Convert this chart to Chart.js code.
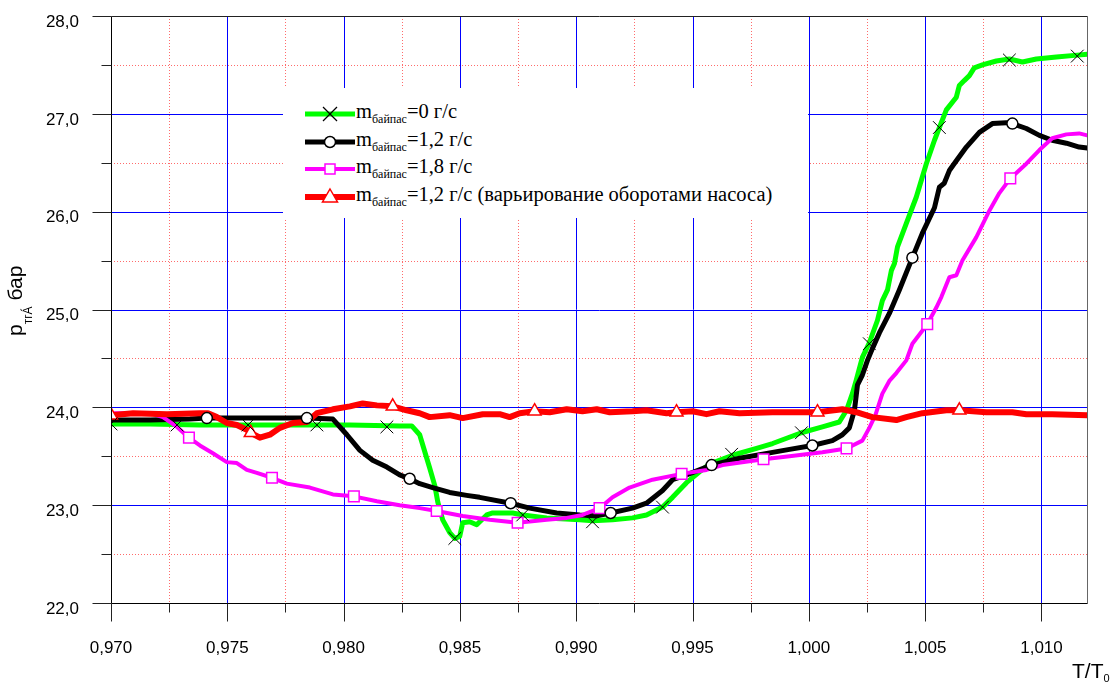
<!DOCTYPE html>
<html>
<head>
<meta charset="utf-8">
<script src="https://cdn.jsdelivr.net/npm/chart.js@4.4.0/dist/chart.umd.min.js"></script>
<style>
  body { margin: 0; background: #fff; }
  #wrap { position: relative; width: 1114px; height: 684px; }
  #chart { position: absolute; left: 0; top: 0; }
  #legend { position: absolute; left: 283px; top: 88px; width: 525px; height: 130px; background: #fff;
    font-family: "Liberation Serif", "Times New Roman", serif; font-size: 20.5px; color: #000; }
  .row { position: absolute; left: 0; width: 525px; height: 28px; }
  .row svg { position: absolute; left: 22px; top: 0; }
  .row .t { position: absolute; left: 73px; top: 1px; line-height: 20px; white-space: nowrap; }
  .row sub { font-size: 12px; vertical-align: -5px; line-height: 0; }
  .axt { position: absolute; font-family: "Liberation Sans", Arial, sans-serif; font-size: 21px; line-height: 21px; white-space: nowrap; color: #000; }
  #ytitle { left: 4px; top: 336px; transform: rotate(-90deg); transform-origin: 0 0; }
  #ytitle sub { font-size: 12px; vertical-align: -10px; line-height: 0; }
  #xtitle { left: 1072px; top: 660px; }
  #xtitle sub { font-size: 11px; vertical-align: -4px; line-height: 0; }
</style>
</head>
<body>
<div id="wrap">
  <canvas id="chart" width="1114" height="684"></canvas>
  <div id="legend">
    <div class="row" style="top:12px">
      <svg width="50" height="28"><line x1="0" y1="14" x2="50" y2="14" stroke="#00ff00" stroke-width="5"/>
        <line x1="18" y1="7" x2="32" y2="21" stroke="#000" stroke-width="1.2"/><line x1="18" y1="21" x2="32" y2="7" stroke="#000" stroke-width="1.2"/></svg>
      <span class="t">m<sub>байпас</sub>=0 г/с</span>
    </div>
    <div class="row" style="top:39.7px">
      <svg width="50" height="28"><line x1="0" y1="14" x2="50" y2="14" stroke="#000" stroke-width="5"/>
        <circle cx="25" cy="14" r="5.5" fill="#fff" stroke="#000" stroke-width="1.5"/></svg>
      <span class="t">m<sub>байпас</sub>=1,2 г/с</span>
    </div>
    <div class="row" style="top:67.3px">
      <svg width="50" height="28"><line x1="0" y1="14" x2="50" y2="14" stroke="#ff00ff" stroke-width="4"/>
        <rect x="20" y="9" width="10" height="10" fill="#fff" stroke="#ff00ff" stroke-width="1.5"/></svg>
      <span class="t">m<sub>байпас</sub>=1,8 г/с</span>
    </div>
    <div class="row" style="top:95.3px">
      <svg width="50" height="28"><line x1="0" y1="14" x2="50" y2="14" stroke="#ff0000" stroke-width="6"/>
        <polygon points="25,6 32.5,19 17.5,19" fill="#fff" stroke="#ff0000" stroke-width="1.5"/></svg>
      <span class="t">m<sub>байпас</sub>=1,2 г/с (варьирование оборотами насоса)</span>
    </div>
  </div>
  <div id="ytitle" class="axt">p<sub>тгÁ</sub> бар</div>
  <div id="xtitle" class="axt">T/T<sub>0</sub></div>
</div>
<script>
// m = 0 г/с (зелёная)
const gX = [0.97000,0.97168,0.97382,0.97597,0.97812,0.98027,0.98241,0.98293,0.98327,0.98370,0.98392,0.98405,0.98426,0.98456,0.98478,0.98499,0.98512,0.98542,0.98572,0.98615,0.98641,0.98727,0.98770,0.98873,0.99015,0.99070,0.99156,0.99242,0.99302,0.99345,0.99371,0.99414,0.99474,0.99530,0.99573,0.99672,0.99775,0.99844,0.99968,1.00058,1.00131,1.00162,1.00187,1.00204,1.00230,1.00260,1.00295,1.00316,1.00338,1.00355,1.00368,1.00381,1.00419,1.00462,1.00505,1.00540,1.00561,1.00591,1.00634,1.00647,1.00668,1.00690,1.00711,1.00746,1.00806,1.00862,1.00918,1.00978,1.01064,1.01154,1.01197];
const gY = [23.83,23.83,23.82,23.82,23.82,23.82,23.81,23.81,23.72,23.38,23.20,23.03,22.85,22.72,22.66,22.68,22.82,22.83,22.80,22.90,22.92,22.92,22.90,22.87,22.85,22.84,22.85,22.87,22.90,22.95,22.98,23.08,23.23,23.34,23.42,23.51,23.58,23.63,23.74,23.80,23.85,23.97,24.14,24.28,24.51,24.66,24.89,25.09,25.20,25.40,25.47,25.64,25.88,26.15,26.49,26.73,26.86,27.04,27.17,27.29,27.34,27.39,27.47,27.50,27.54,27.56,27.53,27.56,27.58,27.60,27.61];
const gMX = [0.97000,0.97284,0.97589,0.97885,0.98186,0.98478,0.98770,0.99070,0.99371,0.99668,0.99968,1.00260,1.00561,1.00862,1.01154];
const gMY = [23.83,23.82,23.82,23.82,23.80,22.66,22.90,22.83,22.98,23.52,23.74,24.65,26.86,27.55,27.59];

// m = 1,2 г/с (чёрная)
const bX = [0.97000,0.97168,0.97339,0.97412,0.97640,0.97842,0.97954,0.98014,0.98070,0.98125,0.98186,0.98241,0.98284,0.98327,0.98383,0.98456,0.98529,0.98585,0.98718,0.98800,0.98916,0.99015,0.99088,0.99148,0.99242,0.99302,0.99371,0.99414,0.99474,0.99582,0.99702,0.99844,0.99917,1.00015,1.00101,1.00144,1.00174,1.00196,1.00209,1.00230,1.00252,1.00273,1.00303,1.00346,1.00389,1.00445,1.00488,1.00540,1.00561,1.00582,1.00604,1.00634,1.00677,1.00733,1.00789,1.00849,1.00875,1.00935,1.00991,1.01046,1.01107,1.01162,1.01197];
const bY = [23.87,23.87,23.88,23.89,23.89,23.89,23.88,23.72,23.56,23.46,23.39,23.31,23.27,23.22,23.18,23.13,23.10,23.08,23.02,22.97,22.92,22.90,22.89,22.92,22.97,23.02,23.15,23.26,23.31,23.41,23.48,23.54,23.57,23.61,23.66,23.72,23.79,23.97,24.23,24.33,24.48,24.60,24.76,24.96,25.20,25.53,25.78,26.04,26.25,26.29,26.42,26.52,26.66,26.81,26.90,26.91,26.90,26.85,26.78,26.73,26.70,26.66,26.65];
const bMX = [0.97412,0.97842,0.98284,0.98718,0.99148,0.99582,1.00015,1.00445,1.00875];
const bMY = [23.89,23.89,23.27,23.02,22.92,23.41,23.61,25.53,26.90];

// m = 1,8 г/с (пурпурная)
const pX = [0.97000,0.97168,0.97223,0.97284,0.97335,0.97382,0.97438,0.97498,0.97541,0.97584,0.97627,0.97692,0.97756,0.97855,0.97954,0.98044,0.98143,0.98241,0.98327,0.98400,0.98512,0.98628,0.98748,0.98873,0.98959,0.99027,0.99101,0.99156,0.99229,0.99328,0.99453,0.99560,0.99629,0.99805,0.99917,1.00058,1.00162,1.00230,1.00260,1.00286,1.00316,1.00346,1.00376,1.00419,1.00445,1.00509,1.00548,1.00570,1.00604,1.00634,1.00660,1.00720,1.00776,1.00819,1.00866,1.00935,1.00991,1.01046,1.01107,1.01162,1.01197];
const pY = [23.94,23.94,23.90,23.80,23.69,23.61,23.53,23.44,23.43,23.36,23.33,23.28,23.22,23.18,23.11,23.09,23.04,23.00,22.97,22.94,22.89,22.85,22.82,22.85,22.87,22.90,22.97,23.08,23.18,23.26,23.32,23.36,23.41,23.47,23.50,23.54,23.58,23.66,23.79,23.92,24.14,24.27,24.35,24.48,24.65,24.85,25.02,25.13,25.33,25.35,25.50,25.74,26.01,26.19,26.34,26.49,26.63,26.75,26.79,26.80,26.78];
const pMX = [0.97335,0.97692,0.98044,0.98400,0.98748,0.99100,0.99453,0.99805,1.00162,1.00509,1.00866];
const pMY = [23.69,23.28,23.09,22.94,22.82,22.97,23.32,23.47,23.58,24.85,26.34];

// m = 1,2 г/с, варьирование оборотами насоса (красная)
const rX = [0.97000,0.97095,0.97241,0.97382,0.97417,0.97455,0.97498,0.97541,0.97584,0.97601,0.97640,0.97683,0.97726,0.97782,0.97842,0.97885,0.97954,0.98027,0.98082,0.98143,0.98211,0.98271,0.98327,0.98370,0.98456,0.98512,0.98598,0.98671,0.98714,0.98757,0.98821,0.98886,0.98959,0.99027,0.99088,0.99144,0.99242,0.99302,0.99388,0.99431,0.99500,0.99560,0.99616,0.99702,0.99844,1.00037,1.00144,1.00204,1.00273,1.00376,1.00419,1.00488,1.00591,1.00647,1.00763,1.00875,1.00935,1.01046,1.01197];
const rY = [23.92,23.94,23.93,23.94,23.94,23.90,23.84,23.82,23.77,23.74,23.69,23.72,23.79,23.84,23.85,23.94,23.98,24.01,24.04,24.02,24.01,23.97,23.94,23.90,23.92,23.89,23.93,23.93,23.90,23.94,23.96,23.95,23.98,23.96,23.98,23.95,23.96,23.97,23.94,23.95,23.96,23.93,23.96,23.94,23.95,23.95,23.98,23.95,23.90,23.87,23.90,23.94,23.97,23.97,23.95,23.95,23.93,23.93,23.92];
const rMX = [0.97000,0.97601,0.98211,0.98821,0.99431,1.00037,1.00647];
const rMY = [23.92,23.74,24.01,23.96,23.95,23.95,23.97];

function pts(xs, ys) {
  return xs.map((x, i) => ({ x: x, y: ys[i] }));
}

function isMajorX(v) { return Math.round(v * 1000) % 5 === 0; }
function isMajorY(v) { return Math.abs(v - Math.round(v)) < 1e-6; }

// сетка, оси и засечки
const gridPlugin = {
  id: "grid",
  beforeDatasetsDraw(chart) {
    const { ctx, chartArea: a, scales } = chart;
    const xs = scales.x, ys = scales.y;
    ctx.save();
    ctx.lineWidth = 1;
    // мелкая сетка
    ctx.strokeStyle = "rgba(255,70,70,0.8)";
    ctx.setLineDash([1, 2]);
    xs.ticks.forEach(t => {
      if (isMajorX(t.value)) return;
      const px = Math.round(xs.getPixelForValue(t.value)) + 0.5;
      ctx.beginPath(); ctx.moveTo(px, a.top); ctx.lineTo(px, a.bottom); ctx.stroke();
    });
    ys.ticks.forEach(t => {
      if (isMajorY(t.value)) return;
      const py = Math.round(ys.getPixelForValue(t.value)) + 0.5;
      ctx.beginPath(); ctx.moveTo(a.left, py); ctx.lineTo(a.right, py); ctx.stroke();
    });
    // основная сетка
    ctx.setLineDash([]);
    ctx.strokeStyle = "#0000ff";
    xs.ticks.forEach(t => {
      if (!isMajorX(t.value) || t.value <= xs.min + 1e-6) return;
      const px = Math.round(xs.getPixelForValue(t.value)) + 0.5;
      ctx.beginPath(); ctx.moveTo(px, a.top); ctx.lineTo(px, a.bottom); ctx.stroke();
    });
    ys.ticks.forEach(t => {
      if (!isMajorY(t.value) || t.value <= ys.min + 1e-6 || t.value >= ys.max - 1e-6) return;
      const py = Math.round(ys.getPixelForValue(t.value)) + 0.5;
      ctx.beginPath(); ctx.moveTo(a.left, py); ctx.lineTo(a.right, py); ctx.stroke();
    });
    ctx.restore();
  },
  afterDatasetsDraw(chart) {
    const { ctx, chartArea: a, scales } = chart;
    const xs = scales.x, ys = scales.y;
    const L = Math.round(a.left) + 0.5, B = Math.round(a.bottom) + 0.5;
    const T = Math.round(a.top) + 0.5, R = Math.round(a.right) - 0.5;
    ctx.save();
    ctx.lineWidth = 1;
    ctx.strokeStyle = "#666";
    ctx.beginPath(); ctx.moveTo(R, T); ctx.lineTo(R, B); ctx.stroke();
    ctx.strokeStyle = "#222";
    ctx.beginPath(); ctx.moveTo(L, T); ctx.lineTo(R, T); ctx.stroke();
    ctx.strokeStyle = "#000";
    ctx.beginPath(); ctx.moveTo(L, T); ctx.lineTo(L, B); ctx.lineTo(R, B); ctx.stroke();
    ctx.strokeStyle = "#222";
    xs.ticks.forEach(t => {
      const px = Math.round(xs.getPixelForValue(t.value)) + 0.5;
      const len = isMajorX(t.value) ? 18 : 9;
      ctx.beginPath(); ctx.moveTo(px, B); ctx.lineTo(px, B + len); ctx.stroke();
    });
    ys.ticks.forEach(t => {
      const py = Math.round(ys.getPixelForValue(t.value)) + 0.5;
      const len = isMajorY(t.value) ? 19 : 10;
      ctx.beginPath(); ctx.moveTo(L - len, py); ctx.lineTo(L, py); ctx.stroke();
    });
    ctx.restore();
  }
};

const tickFont = { family: "'Liberation Sans', Arial, sans-serif", size: 17 };

new Chart(document.getElementById("chart").getContext("2d"), {
  type: "line",
  data: {
    datasets: [
      { data: pts(gMX, gMY), showLine: false, pointStyle: "crossRot", pointRadius: 9, borderColor: "#000", borderWidth: 1, order: 0 },
      { data: pts(bMX, bMY), showLine: false, pointStyle: "circle", pointRadius: 5.5, backgroundColor: "#fff", borderColor: "#000", borderWidth: 1.5, order: 0 },
      { data: pts(pMX, pMY), showLine: false, pointStyle: "rect", pointRadius: 7.5, backgroundColor: "#fff", borderColor: "#ff00ff", borderWidth: 1.5, order: 0 },
      { data: pts(rMX, rMY), showLine: false, pointStyle: "triangle", pointRadius: 7.5, backgroundColor: "#fff", borderColor: "#ff0000", borderWidth: 1.5, order: 0 },
      { data: pts(rX, rY), borderColor: "#ff0000", borderWidth: 6, pointRadius: 0, tension: 0, borderJoinStyle: "round", borderCapStyle: "round", order: 1 },
      { data: pts(pX, pY), borderColor: "#ff00ff", borderWidth: 4, pointRadius: 0, tension: 0, borderJoinStyle: "round", borderCapStyle: "round", order: 2 },
      { data: pts(bX, bY), borderColor: "#000", borderWidth: 5, pointRadius: 0, tension: 0, borderJoinStyle: "round", borderCapStyle: "round", order: 3 },
      { data: pts(gX, gY), borderColor: "#00ff00", borderWidth: 5, pointRadius: 0, tension: 0, borderJoinStyle: "round", borderCapStyle: "round", order: 4 }
    ]
  },
  options: {
    responsive: false,
    animation: false,
    events: [],
    layout: { padding: { top: 16, right: 26, left: 0, bottom: 0 } },
    plugins: { legend: { display: false }, tooltip: { enabled: false } },
    scales: {
      x: {
        type: "linear", min: 0.970, max: 1.012,
        // невидимые засечки задают отступ подписей, сама сетка рисуется плагином
        grid: { display: true, drawOnChartArea: false, drawTicks: true, tickLength: 35, tickColor: "rgba(0,0,0,0)" },
        border: { display: false },
        ticks: {
          stepSize: 0.0025, includeBounds: false, autoSkip: false, maxRotation: 0, minRotation: 0,
          padding: 0, color: "#000", font: tickFont,
          callback: v => isMajorX(v) ? v.toFixed(3).replace(".", ",") : ""
        },
        afterFit: s => { s.height = 81; }
      },
      y: {
        min: 22, max: 28,
        grid: { display: true, drawOnChartArea: false, drawTicks: true, tickLength: 32, tickColor: "rgba(0,0,0,0)" },
        border: { display: false },
        ticks: {
          stepSize: 0.5, autoSkip: false, padding: 0, labelOffset: 6, color: "#000", font: tickFont,
          callback: v => isMajorY(v) ? v.toFixed(1).replace(".", ",") : ""
        },
        afterFit: s => { s.width = 111; }
      }
    }
  },
  plugins: [gridPlugin]
});
</script>
</body>
</html>
